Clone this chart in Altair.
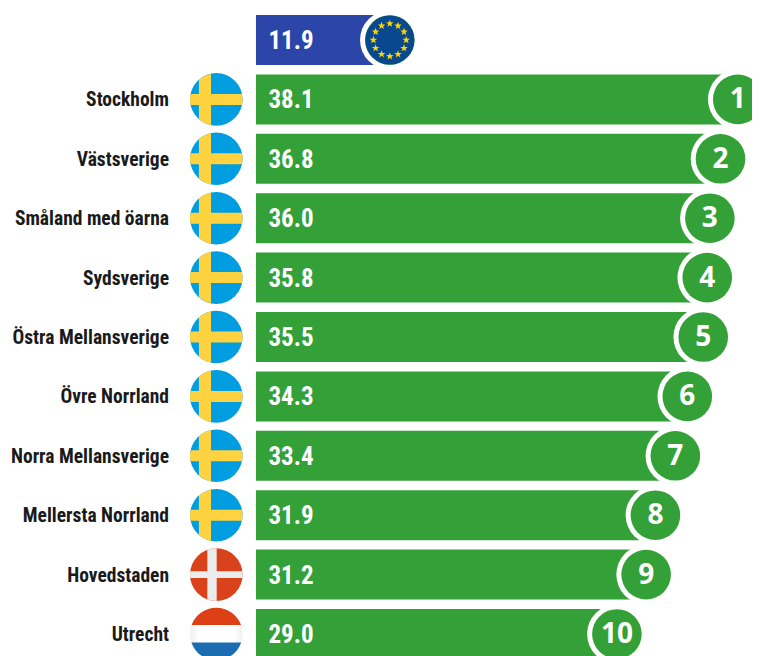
import math
import altair as alt
import pandas as pd

names = ["EU", "Stockholm", "Västsverige", "Småland med öarna", "Sydsverige", "Östra Mellansverige",
         "Övre Norrland", "Norra Mellansverige", "Mellersta Norrland", "Hovedstaden", "Utrecht"]
values = [11.9, 38.1, 36.8, 36.0, 35.8, 35.5, 34.3, 33.4, 31.9, 31.2, 29.0]
ranks = ["", "1", "2", "3", "4", "5", "6", "7", "8", "9", "10"]
flags = ["eu", "se", "se", "se", "se", "se", "se", "se", "se", "dk", "nl"]
bar_start = 1.82

GREEN = "#34a038"
BLUE = "#2b45a8"
NARROW = "'Roboto Condensed',Roboto"

df = pd.DataFrame({"name": names, "value": values, "rank": ranks, "flag": flags,
                   "start": [bar_start] * len(names),
                   "text": [f"{v:.1f}" for v in values]})

X = alt.X("value:Q", axis=None, scale=alt.Scale(domain=[0, 41.13], range=[223.8, 770]))
Y = alt.Y("name:N", axis=None, scale=alt.Scale(type="band", domain=names, range=[2.3, 655.7],
                                               padding=0))
base = alt.Chart(df).encode(y=Y)


def star(cx, cy, R=0.16):
    pts = []
    for i in range(10):
        r = R if i % 2 == 0 else R * 0.42
        a = -math.pi / 2 + i * math.pi / 5
        pts.append(f"{cx + r * math.cos(a):.3f} {cy + r * math.sin(a):.3f}")
    return "M" + "L".join(pts) + "Z"


EU_STARS = "".join(star(0.67 * math.cos(i * math.pi / 6), 0.67 * math.sin(i * math.pi / 6))
                   for i in range(12))
SE_CROSS = ("M-.66 -.751A1 1 0 0 1 -.2 -.98L-.2 -.21L.977 -.21A1 1 0 0 1 .977 .21L-.2 .21L-.2 .98"
            "A1 1 0 0 1 -.66 .751L-.66 .21L-.977 .21A1 1 0 0 1 -.977 -.21L-.66 -.21Z")
DK_CROSS = ("M-.34 -.94A1 1 0 0 1 .015 -1L.015 -.13L.99 -.13A1 1 0 0 1 .99 .13L.015 .13L.015 1"
            "A1 1 0 0 1 -.34 .94L-.34 .13L-.99 .13A1 1 0 0 1 -.99 -.13L-.34 -.13Z")
NL_TOP = "M-.94 -.34A1 1 0 0 1 .94 -.34Z"
NL_BOTTOM = "M.947 .32A1 1 0 0 1 -.947 .32Z"

WHITE_GRAD = alt.RadialGradient(gradient="radial", x1=0.5, y1=0.5, x2=0.5, y2=0.5, r1=0.35, r2=0.7,
                                stops=[alt.GradientStop(offset=0, color="#ffffff"),
                                       alt.GradientStop(offset=1, color="#dcdcdc")])


def flag_layer(code, shape, color, size=2767, fx=216.3 - 8):
    return (base.transform_filter(alt.datum.flag == code)
            .mark_point(shape=shape, filled=True, fill=color, opacity=1, size=size, strokeWidth=0)
            .encode(x=alt.value(fx)))


bars = base.mark_bar(size=50).encode(
    x=X, x2="start:Q",
    color=alt.condition(alt.datum.flag == "eu", alt.value(BLUE), alt.value(GREEN)))
ring = base.mark_point(shape="circle", filled=True, fill="white", opacity=1, size=3552,
                       strokeWidth=0).encode(x=X)
badge = base.mark_point(shape="circle", filled=True, fill=GREEN, opacity=1, size=2460,
                        strokeWidth=0).encode(x=X)
eu_disc = (base.transform_filter(alt.datum.flag == "eu")
           .mark_point(shape="circle", filled=True, fill="#08488f", opacity=1, size=2401, strokeWidth=0)
           .encode(x=X))
eu_stars = (base.transform_filter(alt.datum.flag == "eu")
            .mark_point(shape=EU_STARS, filled=True, fill="#ffd500", opacity=1, size=2401, strokeWidth=0)
            .encode(x=X))
rank_text = base.mark_text(font="Open Sans", fontWeight="bold", fontSize=28, color="white",
                           baseline="middle", align="center", dy=1).encode(x=X, text="rank:N")
value_text = base.mark_text(font=NARROW, fontWeight="bold", fontSize=25, color="white",
                            baseline="middle", align="center", dy=1).encode(
    x=alt.value(291 - 8), text="text:N")
labels = (base.transform_filter(alt.datum.flag != "eu")
          .mark_text(font=NARROW, fontWeight="bold", fontSize=19.5, color="#1a1a1a",
                     baseline="middle", align="right", dy=1)
          .encode(x=alt.value(169 - 8), text="name:N"))

chart = alt.layer(
    bars, ring, badge, eu_disc, eu_stars, rank_text, value_text, labels,
    flag_layer("se", "circle", "#009ee0"),
    flag_layer("se", SE_CROSS, "#ffd33f"),
    flag_layer("dk", "circle", "#d9421a"),
    flag_layer("dk", DK_CROSS, "#ececec"),
    flag_layer("nl", "circle", WHITE_GRAD),
    flag_layer("nl", NL_TOP, "#de4016"),
    flag_layer("nl", NL_BOTTOM, "#1b6cb0"),
).properties(width=744, height=648, padding=0, autosize=alt.AutoSizeParams(type="none"),
             background="white").configure_view(stroke=None)

chart.save("out.html", embed_options={"renderer": "svg", "actions": False})
